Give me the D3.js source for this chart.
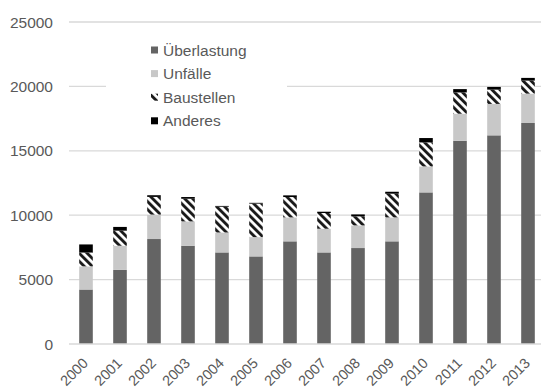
<!DOCTYPE html>
<meta charset="utf-8">
<head>
<style>
  body { margin: 0; background: white; font-family: "Liberation Sans", Arial, sans-serif; }
  svg { display: block; }
</style>
<script src="https://cdn.jsdelivr.net/npm/d3@7"></script>
</head>
<body>
<svg id="chart"></svg>
<script>
// chart data
let years = ["2000","2001","2002","2003","2004","2005","2006","2007","2008","2009","2010","2011","2012","2013"]
let ueberlastung = [4230, 5750, 8150, 7630, 7110, 6800, 7970, 7110, 7450, 7970, 11770, 15780, 16200, 17160]
let unfaelle     = [1800, 1880, 1900, 1890, 1550, 1500, 1860, 1840, 1760, 1860, 2020, 2100, 2440, 2280]
let baustellen   = [1070, 1170, 1370, 1760, 2000, 2600, 1580, 1220, 700, 1840, 1860, 1650, 1110, 1010]
let anderes      = [630, 290, 130, 130, 60, 60, 130, 100, 150, 150, 340, 260, 210, 210]
let seriesNames = ["Überlastung", "Unfälle", "Baustellen", "Anderes"]
let yTicks = [0, 5000, 10000, 15000, 20000, 25000]

let width = 541, height = 389
let margin = {top: 22, right: -4, bottom: 45, left: 69}

let svg = d3.select("#chart").attr("width", width).attr("height", height)

// build rows for d3.stack
let rows = years.map((y, i) => ({
  year: y,
  "Überlastung": ueberlastung[i],
  "Unfälle": unfaelle[i],
  "Baustellen": baustellen[i],
  "Anderes": anderes[i]
}))
let stacked = d3.stack().keys(seriesNames)(rows)

let x = d3.scaleBand()
  .domain(years)
  .range([margin.left, width - margin.right])
  .paddingInner(0.6)
  .paddingOuter(0.3)

let y = d3.scaleLinear()
  .domain([0, 25000])
  .range([height - margin.bottom, margin.top])

// stripe pattern for Baustellen
let defs = svg.append("defs")
let pat = defs.append("pattern")
  .attr("id", "stripes")
  .attr("patternUnits", "userSpaceOnUse")
  .attr("width", 5.66).attr("height", 5.66)
  .attr("patternTransform", "rotate(-45)")
pat.append("rect").attr("width", 5.66).attr("height", 5.66).attr("fill", "white")
pat.append("rect").attr("width", 2.9).attr("height", 5.66).attr("fill", "#1a1a1a")

let fills = {
  "Überlastung": "#646464",
  "Unfälle": "#c8c8c8",
  "Baustellen": "url(#stripes)",
  "Anderes": "#000000"
}

// gridlines
svg.append("g")
  .selectAll("line")
  .data(yTicks.slice(1))
  .enter().append("line")
  .attr("x1", margin.left).attr("x2", width)
  .attr("y1", d => y(d)).attr("y2", d => y(d))
  .attr("stroke", "#d9d9d9").attr("stroke-width", 1.3)

// y labels
svg.append("g")
  .selectAll("text")
  .data(yTicks)
  .enter().append("text")
  .attr("x", 53).attr("y", d => y(d) + 5.5)
  .attr("text-anchor", "end")
  .attr("font-size", 15.5)
  .attr("fill", "#595959")
  .text(d => d)

// bars
svg.append("g")
  .selectAll("g")
  .data(stacked)
  .enter().append("g")
  .attr("fill", d => fills[d.key])
  .selectAll("rect")
  .data(d => d)
  .enter().append("rect")
  .attr("x", d => x(d.data.year))
  .attr("width", x.bandwidth())
  .attr("y", d => y(d[1]))
  .attr("height", d => y(d[0]) - y(d[1]))

// x axis line
svg.append("line")
  .attr("x1", margin.left).attr("x2", width)
  .attr("y1", y(0)).attr("y2", y(0))
  .attr("stroke", "#d9d9d9").attr("stroke-width", 1.5)

// x labels, rotated 45 degrees
let labelX = d => x(d) + x.bandwidth() / 2 + 3
let labelY = y(0) + 20
svg.append("g")
  .selectAll("text")
  .data(years)
  .enter().append("text")
  .attr("x", d => labelX(d))
  .attr("y", labelY)
  .attr("transform", d => `rotate(-45 ${labelX(d)} ${labelY})`)
  .attr("text-anchor", "end")
  .attr("font-size", 14.5)
  .attr("fill", "#595959")
  .text(d => d)

// legend
let legend = svg.append("g")
legend.append("rect")
  .attr("x", 106).attr("y", 36).attr("width", 181).attr("height", 98)
  .attr("fill", "white")
let items = legend.selectAll("g.item")
  .data(seriesNames)
  .enter().append("g")
  .attr("class", "item")
  .attr("transform", (d, i) => `translate(151,${50 + i * 23.6})`)
items.append("rect")
  .attr("x", 0).attr("y", -3.5).attr("width", 7).attr("height", 7)
  .attr("fill", d => fills[d])
items.append("text")
  .attr("x", 12).attr("y", 5.5)
  .attr("font-size", 15.5)
  .attr("fill", "#595959")
  .text(d => d)
</script>
</body>
